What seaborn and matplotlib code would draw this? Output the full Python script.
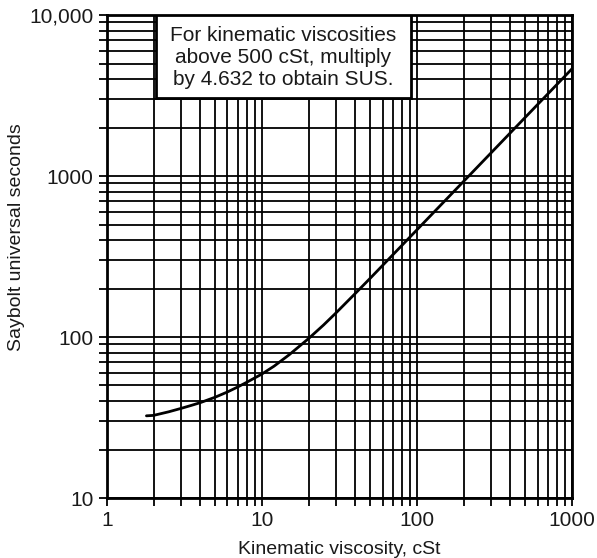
import matplotlib
matplotlib.use("Agg")
import matplotlib.pyplot as plt
import matplotlib.ticker as mticker
from matplotlib.patches import Rectangle
import seaborn as sns
import pandas as pd

sns.set_style("ticks")
plt.rcParams["font.family"] = ["Liberation Sans", "DejaVu Sans"]
plt.rcParams["font.size"] = 15

# kinematic viscosity (cSt) vs Saybolt universal seconds
cst = [1.8, 2, 2.5, 3, 3.5, 4, 5, 6, 7, 8, 10, 12, 15, 20, 25, 30, 40, 50, 70,
       100, 150, 200, 300, 500, 700, 1000]
sus = [32.4, 32.6, 34.3, 36.0, 37.6, 39.1, 42.3, 45.6, 49.0, 52.4, 58.9, 66.0,
       77.6, 97.8, 118.8, 140.9, 186.3, 231.9, 324.4, 463.2, 694.8, 926.0,
       1389.0, 2316.0, 3242.0, 4632.0]
df = pd.DataFrame({"cst": cst, "sus": sus})

note = "For kinematic viscosities\nabove 500 cSt, multiply\nby 4.632 to obtain SUS."

fig = plt.figure(figsize=(5.97, 5.58), dpi=100)
ax = fig.add_axes([0.179, 0.1075, 0.779, 0.8655])

sns.lineplot(data=df, x="cst", y="sus", color="black", lw=2, ax=ax)
ax.set_xscale("log")
ax.set_yscale("log")
ax.set_xlim(1, 1000)
ax.set_ylim(10, 10000)

ax.xaxis.set_major_locator(mticker.LogLocator(base=10))
ax.xaxis.set_minor_locator(mticker.LogLocator(base=10, subs=range(2, 10)))
ax.yaxis.set_major_locator(mticker.LogLocator(base=10))
ax.yaxis.set_minor_locator(mticker.LogLocator(base=10, subs=range(2, 10)))
ax.xaxis.set_major_formatter(mticker.FuncFormatter(lambda v, _: f"{v:.0f}"))
ax.yaxis.set_major_formatter(
    mticker.FuncFormatter(lambda v, _: f"{v:,.0f}" if v >= 10000 else f"{v:.0f}"))
ax.xaxis.set_minor_formatter(mticker.NullFormatter())
ax.yaxis.set_minor_formatter(mticker.NullFormatter())

ax.grid(which="both", color="black", lw=1.3)
ax.tick_params(which="both", direction="out", length=6, width=1.3, color="black",
               labelsize=15, labelcolor="#1a1a1a")
for s in ax.spines.values():
    s.set_visible(True)
    s.set_linewidth(2)
    s.set_color("black")
ax.set_axisbelow(True)

ax.add_patch(Rectangle((0.105, 0.828), 0.549, 0.172, transform=ax.transAxes,
                       facecolor="white", edgecolor="black", lw=2, zorder=3))
ax.text(0.3795, 0.913, note, transform=ax.transAxes, ha="center", va="center",
        fontsize=15, linespacing=1.2, color="#1a1a1a", zorder=4)

ax.set_xlabel("Kinematic viscosity, cSt", fontsize=14, color="#1a1a1a", labelpad=8)
ax.set_ylabel("Saybolt universal seconds", fontsize=14, color="#1a1a1a")
ax.yaxis.set_label_coords(-0.176, 0.54)

fig.savefig("out.png", dpi=100, facecolor="white")
